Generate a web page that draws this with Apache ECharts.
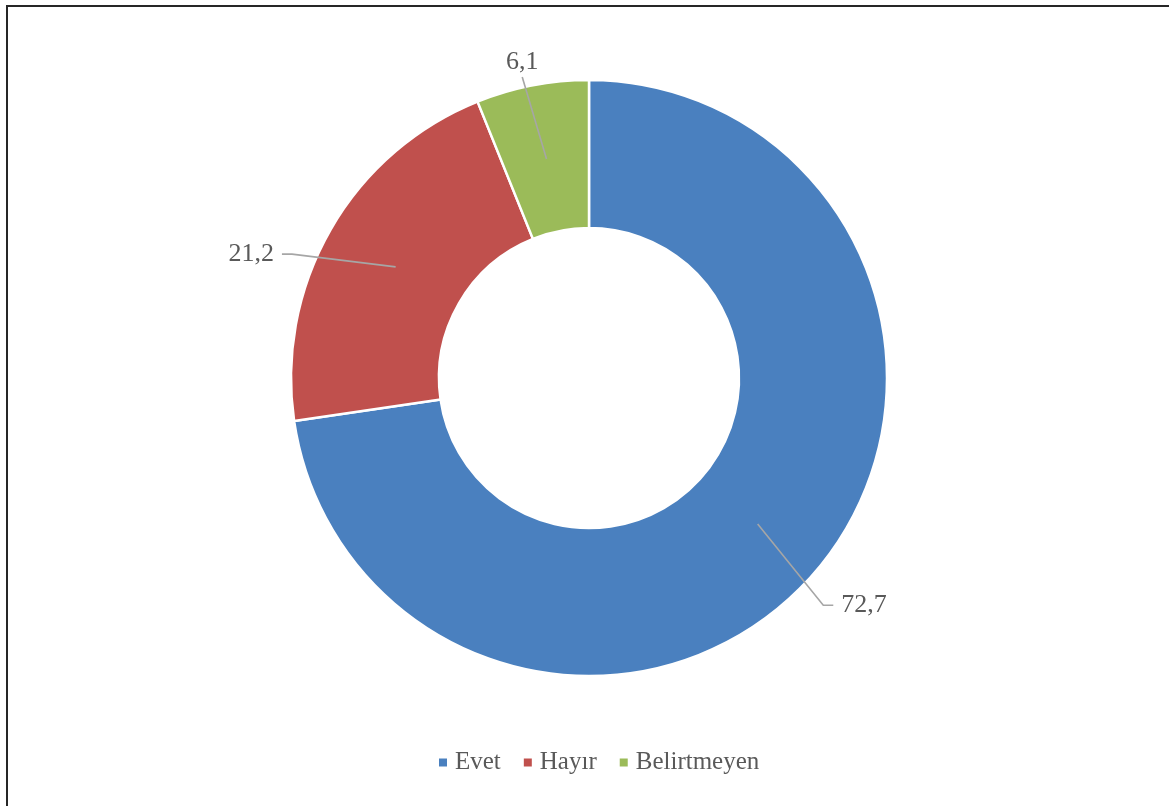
<!DOCTYPE html>
<html>
<head>
<meta charset="utf-8">
<script src="https://cdn.jsdelivr.net/npm/echarts@6/dist/echarts.min.js"></script>
<style>
  html, body { margin: 0; padding: 0; background: #ffffff; }
  #chart { width: 1169px; height: 806px; }
</style>
</head>
<body>
<div id="chart"></div>
<script>
// ---- data ----
const categories = ['Evet', 'Hayır', 'Belirtmeyen'];
const values = [72.7, 21.2, 6.1];
const colors = ['#4A80BF', '#C0504D', '#9BBB59'];

// ---- label tweaks (offsets from the library's default label positions) ----
const labelShift = [[-7, 16], [-20, 37], [16, 1]];
const labelSide = ['right', 'left', 'above'];
const lineLen = [100, 100, 100];
const lineLen2 = [10, 10, 0];

const fmt = v => v.toFixed(1).replace('.', ',');

const chart = echarts.init(document.getElementById('chart'), null, { renderer: 'canvas' });

const donutData = categories.map((c, i) => ({ name: c, value: values[i], itemStyle: { color: colors[i] } }));
const labelData = categories.map((c, i) => ({
  name: c, value: values[i],
  labelLine: { length: lineLen[i], length2: lineLen2[i] }
}));

const option = {
  backgroundColor: '#ffffff',
  animation: false,
  graphic: [{
    type: 'polyline',
    shape: { points: [[7, 806], [7, 6], [1169, 6]] },
    style: { stroke: '#262626', lineWidth: 2, fill: null },
    silent: true,
    z: 100
  }],
  legend: {
    data: categories,
    left: 434,
    top: 745,
    icon: 'rect',
    itemWidth: 8,
    itemHeight: 8,
    itemGap: 23,
    itemStyle: { borderWidth: 0 },
    textStyle: { fontFamily: 'Liberation Serif', fontSize: 25, color: '#595959', padding: [0, 0, 0, 3] }
  },
  series: [
    {
      type: 'pie',
      name: 'donut',
      z: 2,
      center: [589, 378],
      radius: [150, 298],
      startAngle: 90,
      clockwise: true,
      silent: true,
      label: { show: false },
      labelLine: { show: false },
      emphasis: { disabled: true },
      itemStyle: { borderColor: '#ffffff', borderWidth: 2.5 },
      data: donutData
    },
    {
      type: 'pie',
      name: 'labels',
      z: 5,
      center: [589, 378],
      radius: [0, 223],
      startAngle: 90,
      clockwise: true,
      silent: true,
      avoidLabelOverlap: false,
      emphasis: { disabled: true },
      itemStyle: { color: 'rgba(0,0,0,0)', borderWidth: 0 },
      label: {
        show: true,
        position: 'outside',
        formatter: p => fmt(p.value),
        fontFamily: 'Liberation Serif',
        fontSize: 26,
        color: '#595959'
      },
      labelLine: {
        show: true,
        lineStyle: { color: '#A6A6A6', width: 1.6 }
      },
      labelLayout: function (p) {
        const i = p.dataIndex;
        const s = labelShift[i];
        const r = p.labelRect;
        const x = r.x + s[0], y = r.y + s[1], w = r.width, h = r.height;
        const pts = p.labelLinePoints;
        if (!pts) return { dx: s[0], dy: s[1] };
        const start = pts[0];
        const gap = 8;
        let end, bend;
        if (labelSide[i] === 'right') {
          end = [x - gap, y + h / 2];
          bend = [end[0] - lineLen2[i], end[1]];
        } else if (labelSide[i] === 'left') {
          end = [x + w + gap, y + h / 2];
          bend = [end[0] + lineLen2[i], end[1]];
        } else {
          end = [x + w / 2, y + h + 2];
          bend = end.slice();
        }
        return { dx: s[0], dy: s[1], labelLinePoints: [start, bend, end] };
      },
      data: labelData
    }
  ]
};

chart.setOption(option);
</script>
</body>
</html>
